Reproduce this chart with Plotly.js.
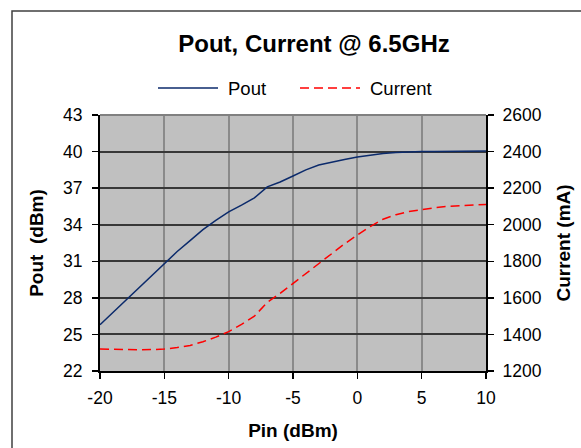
<!DOCTYPE html>
<html>
<head>
<meta charset="utf-8">
<script src="https://cdn.plot.ly/plotly-3.0.1.min.js"></script>
<style>html,body{margin:0;padding:0;background:#fff;}#chart{width:581px;height:448px;}</style>
</head>
<body>
<div id="chart"></div>
<script>
const pin = [-20,-19,-18,-17,-16,-15,-14,-13,-12,-11,-10,-9,-8,-7,-6,-5,-4,-3,-2,-1,0,1,2,3,4,5,6,7,8,9,10];
const pout = [25.8,26.8,27.8,28.8,29.8,30.8,31.8,32.7,33.6,34.35,35.05,35.6,36.2,37.1,37.5,38.0,38.5,38.9,39.15,39.35,39.55,39.7,39.85,39.92,39.97,40.0,40.0,40.02,40.03,40.04,40.05];
const current = [1320,1318,1316,1316,1317,1320,1328,1340,1360,1385,1415,1455,1500,1575,1625,1680,1735,1790,1845,1895,1944,1990,2030,2055,2072,2084,2093,2100,2105,2108,2111];
const seriesNames = ["Pout", "Current"];
const xTicks = [-20,-15,-10,-5,0,5,10];
const xTickText = ["-20","-15","-10","-5","0","5","10"];
const y1Ticks = [22,25,28,31,34,37,40,43];
const y2Ticks = [1200,1400,1600,1800,2000,2200,2400,2600];
const titleText = "Pout, Current @ 6.5GHz";
const xTitle = "Pin (dBm)";
const y1Title = "Pout  (dBm)";
const y2Title = "Current (mA)";

const W = 581, H = 448, L = 100, R = 95, T = 115, B = 77;
const pw = W - L - R, ph = H - T - B;
const px = v => (v - L) / pw;
const py = v => (H - B - v) / ph;

const poutColor = "#0b2a6b";
const curColor = "#ff0000";
const font = "Liberation Sans, Arial, sans-serif";

const data = [
  {x: pin, y: pout, name: seriesNames[0], type: "scatter", mode: "lines",
   line: {color: poutColor, width: 1.5}, yaxis: "y", showlegend: false},
  {x: pin, y: current, name: seriesNames[1], type: "scatter", mode: "lines",
   line: {color: curColor, width: 1.5, dash: "9px,5px"}, yaxis: "y2", showlegend: false}
];

const layout = {
  width: W, height: H,
  margin: {l: L, r: R, t: T, b: B, pad: 0},
  paper_bgcolor: "#ffffff",
  plot_bgcolor: "#c0c0c0",
  font: {family: font, size: 17.5, color: "#000"},
  title: {text: "<b>" + titleText + "</b>", font: {family: font, size: 24, color: "#000"},
          x: 314 / W, xref: "container", xanchor: "center", y: 1 - 44 / H, yref: "container", yanchor: "middle"},
  xaxis: {range: [-20, 10], tickvals: xTicks, ticktext: xTickText, showgrid: true, gridcolor: "#8a8a8a", gridwidth: 2,
          zeroline: false, showline: true, linecolor: "#000", linewidth: 2, mirror: false,
          ticks: "outside", ticklen: 6, tickcolor: "#000", tickwidth: 1.5, ticklabelstandoff: 4,
          title: {text: "<b>" + xTitle + "</b>", font: {family: font, size: 19}, standoff: 17}},
  yaxis: {range: [22, 43], tickvals: y1Ticks, showgrid: true, gridcolor: "#383838", gridwidth: 2,
          zeroline: false, showline: true, linecolor: "#000", linewidth: 2,
          ticks: "outside", ticklen: 6, tickcolor: "#000", tickwidth: 1.5, ticklabelstandoff: 6,
          title: {text: "<b>" + y1Title + "</b>", font: {family: font, size: 19}, standoff: 14}},
  yaxis2: {range: [1200, 2600], tickvals: y2Ticks, overlaying: "y", side: "right",
          showgrid: false, zeroline: false, showline: true, linecolor: "#000", linewidth: 2,
          ticks: "outside", ticklen: 6, tickcolor: "#000", tickwidth: 1.5, ticklabelstandoff: 5,
          title: {text: "<b>" + y2Title + "</b>", font: {family: font, size: 19}, standoff: 16}},
  shapes: [
    {type: "rect", xref: "paper", yref: "paper", x0: px(12), x1: px(700), y0: py(600), y1: py(11),
     line: {color: "#404040", width: 1.5}, fillcolor: "rgba(0,0,0,0)", layer: "below"},
    {type: "line", xref: "paper", yref: "paper", x0: 0, x1: 1, y0: 1, y1: 1, line: {color: "#808080", width: 2}},
    {type: "line", xref: "paper", yref: "paper", x0: px(158), x1: px(218), y0: py(88), y1: py(88),
     line: {color: poutColor, width: 1.5}},
    {type: "line", xref: "paper", yref: "paper", x0: px(300), x1: px(360), y0: py(88), y1: py(88),
     line: {color: curColor, width: 1.5, dash: "9px,5px"}}
  ],
  annotations: [
    {text: seriesNames[0], xref: "paper", yref: "paper", x: px(226), y: py(88), xanchor: "left", yanchor: "middle",
     showarrow: false, font: {family: font, size: 18.5, color: "#000"}},
    {text: seriesNames[1], xref: "paper", yref: "paper", x: px(368), y: py(88), xanchor: "left", yanchor: "middle",
     showarrow: false, font: {family: font, size: 18.5, color: "#000"}}
  ]
};

Plotly.newPlot("chart", data, layout, {staticPlot: true, displayModeBar: false});
</script>
</body>
</html>
